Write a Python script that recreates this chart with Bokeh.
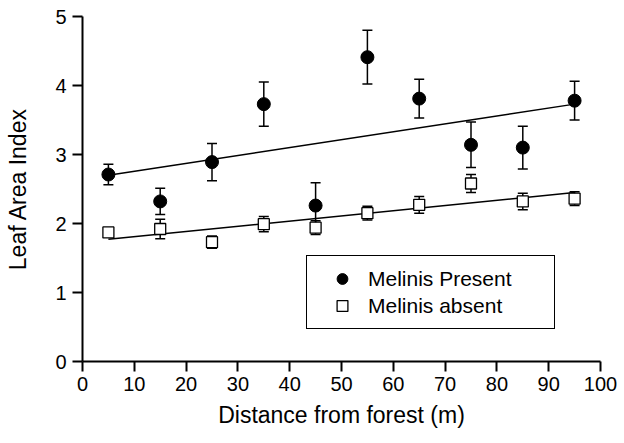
from bokeh.plotting import figure
from bokeh.models import ColumnDataSource, Whisker, TeeHead, Legend, LegendItem
from bokeh.embed import file_html
from bokeh.resources import INLINE

# ---- data ----
distance = [5, 15, 25, 35, 45, 55, 65, 75, 85, 95]
lai_present = [2.71, 2.32, 2.89, 3.73, 2.26, 4.41, 3.81, 3.14, 3.10, 3.78]
se_present = [0.15, 0.19, 0.27, 0.32, 0.33, 0.39, 0.28, 0.33, 0.31, 0.28]
lai_absent = [1.87, 1.92, 1.73, 1.99, 1.94, 2.15, 2.27, 2.58, 2.32, 2.36]
se_absent = [0.05, 0.14, 0.09, 0.11, 0.10, 0.10, 0.12, 0.13, 0.12, 0.10]
fit_x = [5, 95]
fit_present = [2.70, 3.73]
fit_absent = [1.77, 2.45]
x_ticks = [0, 10, 20, 30, 40, 50, 60, 70, 80, 90, 100]
y_ticks = [0, 1, 2, 3, 4, 5]

FONT = "Liberation Sans"

p = figure(width=624, height=443, x_range=(0, 100), y_range=(0, 5),
           output_backend="svg", toolbar_location=None,
           min_border_left=82, min_border_right=24, min_border_top=16, min_border_bottom=82)
p.outline_line_color = None
p.xgrid.visible = False
p.ygrid.visible = False

for ax in (p.xaxis[0], p.yaxis[0]):
    ax.axis_line_width = 2
    ax.axis_line_color = "black"
    ax.major_tick_line_width = 2
    ax.major_tick_line_color = "black"
    ax.major_tick_in = 0
    ax.major_tick_out = 10
    ax.minor_tick_line_color = None
    ax.major_label_text_font = FONT
    ax.major_label_text_font_size = "20px"
    ax.major_label_text_color = "black"
    ax.axis_label_text_font = FONT
    ax.axis_label_text_font_size = "23px"
    ax.axis_label_text_font_style = "normal"
    ax.axis_label_text_color = "black"

p.xaxis.ticker = x_ticks
p.yaxis.ticker = y_ticks
p.xaxis.axis_label = "Distance from forest (m)"
p.yaxis.axis_label = "Leaf Area Index"
p.xaxis.major_label_standoff = 5
p.yaxis.major_label_standoff = 6
p.xaxis.axis_label_standoff = 8
p.yaxis.axis_label_standoff = 21

src_p = ColumnDataSource(dict(
    x=distance, y=lai_present,
    lo=[v - e for v, e in zip(lai_present, se_present)],
    hi=[v + e for v, e in zip(lai_present, se_present)]))
src_a = ColumnDataSource(dict(
    x=distance, y=lai_absent,
    lo=[v - e for v, e in zip(lai_absent, se_absent)],
    hi=[v + e for v, e in zip(lai_absent, se_absent)]))

# regression lines
p.line(fit_x, fit_present, line_color="black", line_width=1.5)
p.line(fit_x, fit_absent, line_color="black", line_width=1.5)

for src in (src_p, src_a):
    w = Whisker(source=src, base="x", lower="lo", upper="hi", dimension="height",
                line_color="black", line_width=1.5,
                lower_head=TeeHead(size=10, line_width=1.5, line_color="black"),
                upper_head=TeeHead(size=10, line_width=1.5, line_color="black"))
    w.level = "underlay"
    p.add_layout(w)

r_p = p.scatter("x", "y", source=src_p, marker="circle", size=13,
                fill_color="black", line_color="black")
r_a = p.scatter("x", "y", source=src_a, marker="square", size=11,
                fill_color="white", line_color="black", line_width=1.3)

legend = Legend(items=[LegendItem(label="Melinis Present", renderers=[r_p]),
                       LegendItem(label="Melinis absent", renderers=[r_a])],
                location=(224, 32), orientation="vertical")
legend.label_text_font = FONT
legend.label_text_font_size = "21px"
legend.label_text_color = "black"
legend.border_line_color = "black"
legend.border_line_alpha = 1.0
legend.border_line_width = 1.5
legend.background_fill_color = "white"
legend.background_fill_alpha = 1
legend.padding = 9
legend.spacing = 0
legend.margin = 0
legend.glyph_width = 52
legend.glyph_height = 27
legend.label_height = 27
legend.label_standoff = 0
legend.label_width = 177
p.add_layout(legend, "center")

open("out.html", "w").write(file_html(p, INLINE))
